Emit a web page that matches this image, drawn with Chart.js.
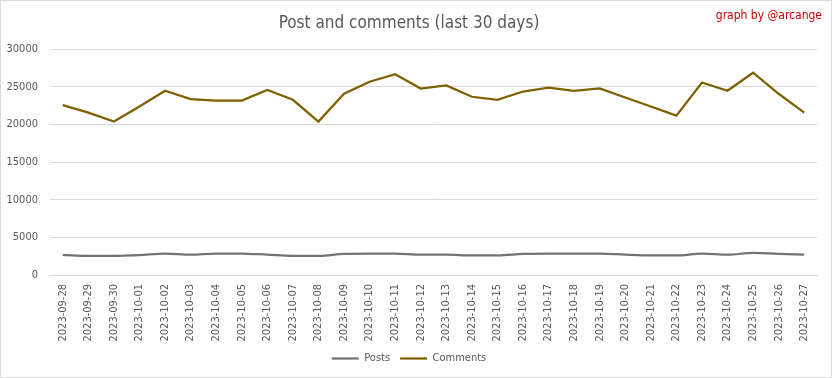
<!DOCTYPE html>
<html>
<head>
<meta charset="utf-8">
<script src="https://cdn.jsdelivr.net/npm/chart.js@4/dist/chart.umd.min.js"></script>
<style>
  html, body { margin: 0; padding: 0; background: #fff; }
  #wrap { position: relative; width: 832px; height: 378px; box-sizing: border-box; border: 1px solid #d9d9d9; background: #fff; }
  #c { display: block; }
  #credit { position: absolute; right: 9px; top: 7px; font-family: "Liberation Sans Narrow", "DejaVu Sans Condensed", sans-serif; font-size: 12px; color: #c00000; }
</style>
</head>
<body>
<div id="wrap">
  <canvas id="c" width="830" height="376"></canvas>
  <div id="credit">graph by @arcange</div>
</div>
<script>
const dates = ["2023-09-28","2023-09-29","2023-09-30","2023-10-01","2023-10-02","2023-10-03","2023-10-04","2023-10-05","2023-10-06","2023-10-07","2023-10-08","2023-10-09","2023-10-10","2023-10-11","2023-10-12","2023-10-13","2023-10-14","2023-10-15","2023-10-16","2023-10-17","2023-10-18","2023-10-19","2023-10-20","2023-10-21","2023-10-22","2023-10-23","2023-10-24","2023-10-25","2023-10-26","2023-10-27"];
const posts = [2670,2550,2550,2650,2850,2700,2850,2850,2700,2550,2550,2800,2850,2850,2700,2700,2600,2600,2800,2850,2850,2850,2700,2600,2600,2850,2700,2950,2800,2700];
const comments = [22600,21600,20400,22400,24500,23400,23200,23200,24600,23300,20400,24100,25700,26700,24800,25200,23700,23300,24400,24900,24500,24800,23600,22400,21200,25600,24500,26900,24100,21600];
const yTicks = [0,5000,10000,15000,20000,25000,30000];
const chartTitle = "Post and comments (last 30 days)";

const FONT = '"Liberation Sans Narrow", "DejaVu Sans Condensed", sans-serif';
Chart.defaults.font.family = FONT;
Chart.defaults.color = '#595959';

new Chart(document.getElementById('c'), {
  type: 'line',
  data: {
    labels: dates,
    datasets: [
      { label: 'Posts', data: posts, borderColor: '#767171', backgroundColor: '#767171', borderWidth: 2.25, pointRadius: 0, tension: 0.3, cubicInterpolationMode: 'monotone' },
      { label: 'Comments', data: comments, borderColor: '#7f6000', backgroundColor: '#7f6000', borderWidth: 2.25, pointRadius: 0, tension: 0 }
    ]
  },
  options: {
    responsive: false,
    animation: false,
    layout: { padding: { left: 0, right: 14, top: 0, bottom: 3 } },
    plugins: {
      title: { display: true, text: chartTitle, color: '#595959', font: { family: FONT, size: 17, weight: 'normal' }, padding: { top: 12, bottom: 16 } },
      legend: {
        position: 'bottom',
        labels: { usePointStyle: true, pointStyle: 'line', pointStyleWidth: 27, boxHeight: 11, color: '#595959', font: { size: 11 }, padding: 10 }
      },
      tooltip: { enabled: false }
    },
    scales: {
      x: {
        offset: true,
        grid: { display: false, drawTicks: false },
        border: { display: true, color: '#d9d9d9', width: 1 },
        ticks: { maxRotation: 90, minRotation: 90, autoSkip: false, color: '#595959', font: { size: 11 }, padding: 9 },
        afterFit: (s) => { s.height = 68; }
      },
      y: {
        min: 0, max: 30000,
        afterBuildTicks: (s) => { s.ticks = yTicks.map(v => ({ value: v })); },
        grid: { color: '#d9d9d9', drawTicks: false },
        border: { display: false },
        ticks: { color: '#595959', font: { size: 11 }, padding: 12, callback: (v) => String(v) },
        afterFit: (s) => { s.width = 49; }
      }
    }
  }
});
</script>
</body>
</html>
